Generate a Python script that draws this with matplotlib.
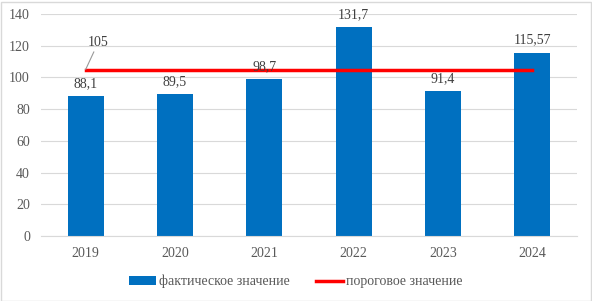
import matplotlib.pyplot as plt
from matplotlib.patches import Rectangle

years = ['2019', '2020', '2021', '2022', '2023', '2024']
actual = [88.1, 89.5, 98.7, 131.7, 91.4, 115.57]
actual_labels = ['88,1', '89,5', '98,7', '131,7', '91,4', '115,57']
threshold = [105, 105, 105, 105, 105, 105]

plt.rcParams['font.family'] = ['Liberation Serif', 'DejaVu Serif']

fig = plt.figure(figsize=(5.92, 3.01), dpi=100)
ax = fig.add_axes([41 / 592, 65 / 301, 536 / 592, 222 / 301])

x = list(range(len(years)))
bars = ax.bar(x, actual, width=0.4, color='#0070C0', zorder=2, label='фактическое значение')
line, = ax.plot(x, threshold, color='#FF0000', linewidth=2.5, zorder=3, label='пороговое значение')

for xi, v, t in zip(x, actual, actual_labels):
    ax.text(xi, v + 4, t, ha='center', va='bottom', fontsize=10, color='#404040', zorder=4)

# подпись порогового значения с выноской
ax.annotate('105', xy=(0, threshold[0]), xytext=(0.14, 122), fontsize=10, color='#404040',
            ha='center', va='center',
            arrowprops=dict(arrowstyle='-', color='#999999', linewidth=0.8, shrinkA=0, shrinkB=0))

ax.set_xlim(-0.5, len(years) - 0.5)
ax.set_ylim(0, 140)
ax.set_yticks(range(0, 141, 20))
ax.set_xticks(x)
ax.set_xticklabels(years)
ax.grid(axis='y', color='#D9D9D9', linewidth=0.8, zorder=0)
for s in ['top', 'right', 'left']:
    ax.spines[s].set_visible(False)
ax.spines['bottom'].set_color('#D9D9D9')
ax.tick_params(axis='both', length=0, labelsize=10, labelcolor='#595959')
ax.tick_params(axis='y', pad=8)
ax.tick_params(axis='x', pad=8)

fig.legend([bars, line], ['фактическое значение', 'пороговое значение'],
           loc='lower center', bbox_to_anchor=(0.5, 0.0), ncol=2, frameon=False,
           fontsize=10, labelcolor='#595959', handlelength=1.9, handleheight=0.55,
           columnspacing=1.9, handletextpad=0.25)

fig.patches.append(Rectangle((0.5 / 592, 0.5 / 301), 590 / 592, 299 / 301, transform=fig.transFigure,
                             fill=False, edgecolor='#D9D9D9', linewidth=1))

fig.savefig('out.png', dpi=100)
